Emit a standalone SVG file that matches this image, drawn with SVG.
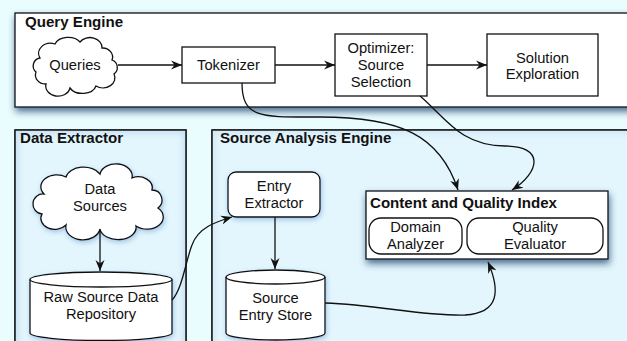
<svg xmlns="http://www.w3.org/2000/svg" width="627" height="341" viewBox="0 0 627 341">
<defs>
<style>
text{font-family:"Liberation Sans",Arial,sans-serif;font-size:14.7px;fill:#111;}
.t{text-anchor:middle;}
.b{font-weight:bold;font-size:15.1px;}
.shape{fill:#fff;stroke:#111;stroke-width:1.3;}
.panel{fill:#e3f6fd;stroke:#111;stroke-width:1.3;}
.conn{fill:none;stroke:#111;stroke-width:1.3;marker-end:url(#arr);}
</style>
<marker id="arr" markerUnits="userSpaceOnUse" markerWidth="12" markerHeight="10" refX="11" refY="5" orient="auto">
<path d="M0,0.5 L11,5 L0,9.5 L3.5,5 Z" fill="#111"/>
</marker>
<filter id="big" x="-10%" y="-20%" width="130%" height="160%">
<feDropShadow dx="1" dy="4" stdDeviation="3.5" flood-color="#1c3f6e" flood-opacity="0.75"/>
</filter>
<filter id="soft" x="-20%" y="-20%" width="140%" height="150%">
<feDropShadow dx="1" dy="2" stdDeviation="2.5" flood-color="#2f63b0" flood-opacity="0.35"/>
</filter>
<filter id="inner" x="-5%" y="-5%" width="110%" height="110%">
<feGaussianBlur stdDeviation="3"/>
</filter>
<clipPath id="cpDE"><rect x="15" y="130" width="171" height="230"/></clipPath>
<clipPath id="cpSA"><rect x="212" y="130" width="430" height="230"/></clipPath>
</defs>
<rect x="0" y="0" width="627" height="341" fill="#e9fcfe"/>

<g id="data-extractor">
<rect class="panel" x="15" y="130" width="171" height="230"/>
<rect x="15" y="130" width="171" height="230" fill="none" stroke="#c3dcf2" stroke-width="6" filter="url(#inner)" clip-path="url(#cpDE)"/>
<rect x="15" y="130" width="171" height="230" fill="none" stroke="#111" stroke-width="1.3"/>
<text class="b" x="20" y="143">Data Extractor</text>
</g>

<g id="source-analysis-engine">
<rect class="panel" x="212" y="130" width="430" height="230"/>
<rect x="212" y="130" width="430" height="230" fill="none" stroke="#cfe4f5" stroke-width="6" filter="url(#inner)" clip-path="url(#cpSA)"/>
<rect x="212" y="130" width="430" height="230" fill="none" stroke="#111" stroke-width="1.3"/>
<text class="b" x="220" y="143">Source Analysis Engine</text>
</g>

<g id="query-engine">
<rect class="shape" x="15" y="13" width="640" height="94" stroke-width="1.6" filter="url(#big)"/>
<text class="b" x="25" y="27">Query Engine</text>
</g>

<g id="queries">
<path class="shape" d="M40,58 A12,10 0 0 1 55,44 A14,10 0 0 1 80,42 A12,10 0 0 1 102,48 A10,9 0 0 1 112,60 A8,8 0 0 1 114,74 A12,10 0 0 1 96,86 A14,10 0 0 1 70,88 A12,10 0 0 1 46,84 A10,9 0 0 1 36,72 A8,8 0 0 1 40,58 Z"/>
<text class="t" x="75" y="70">Queries</text>
</g>

<g id="tokenizer">
<rect class="shape" x="182" y="47" width="93" height="36"/>
<text class="t" x="228.5" y="70">Tokenizer</text>
</g>

<g id="optimizer">
<rect class="shape" x="335" y="34" width="92" height="62"/>
<text class="t" x="381" y="53">Optimizer:</text>
<text class="t" x="381" y="70">Source</text>
<text class="t" x="381" y="87">Selection</text>
</g>

<g id="solution-exploration">
<rect class="shape" x="487" y="34" width="111" height="62"/>
<text class="t" x="542.5" y="63">Solution</text>
<text class="t" x="542.5" y="79">Exploration</text>
</g>

<g id="data-sources">
<path class="shape" filter="url(#soft)" d="M44,194 A16,12 0 0 1 66,177 A18,12 0 0 1 100,174 A16,12 0 0 1 132,178 A14,11 0 0 1 152,190 A10,10 0 0 1 158,208 A16,12 0 0 1 136,226 A18,12 0 0 1 100,229 A16,12 0 0 1 66,225 A14,11 0 0 1 42,214 A10,10 0 0 1 44,194 Z"/>
<text class="t" x="100" y="194">Data</text>
<text class="t" x="100" y="211">Sources</text>
</g>

<g id="raw-source-data-repository">
<path class="shape" filter="url(#soft)" d="M30,279.5 L30,333 A71,7.5 0 0 0 172,333 L172,279.5 A71,7.5 0 0 0 30,279.5 Z"/>
<path d="M30,279.5 A71,7.5 0 0 0 172,279.5" fill="none" stroke="#111" stroke-width="1.3"/>
<text class="t" x="101" y="302">Raw Source Data</text>
<text class="t" x="101" y="319">Repository</text>
</g>

<g id="entry-extractor">
<rect class="shape" filter="url(#soft)" x="228" y="172" width="92" height="45" rx="8"/>
<text class="t" x="274" y="191">Entry</text>
<text class="t" x="274" y="208">Extractor</text>
</g>

<g id="source-entry-store">
<path class="shape" filter="url(#soft)" d="M226,277 L226,333 A49.5,7 0 0 0 325,333 L325,277 A49.5,7 0 0 0 226,277 Z"/>
<path d="M226,277 A49.5,7 0 0 0 325,277" fill="none" stroke="#111" stroke-width="1.3"/>
<text class="t" x="275.5" y="303">Source</text>
<text class="t" x="275.5" y="320">Entry Store</text>
</g>

<g id="content-and-quality-index">
<rect class="shape" filter="url(#big)" x="366" y="191" width="242" height="68"/>
<text class="b" x="370" y="208">Content and Quality Index</text>
<rect class="shape" x="369" y="218" width="93" height="36" rx="12"/>
<text class="t" x="415.5" y="232">Domain</text>
<text class="t" x="415.5" y="249">Analyzer</text>
<rect class="shape" x="467" y="218" width="136" height="36" rx="12"/>
<text class="t" x="535" y="232">Quality</text>
<text class="t" x="535" y="249">Evaluator</text>
</g>

<g id="connectors">
<path class="conn" d="M118,65 L182,65"/>
<path class="conn" d="M275,65 L335,65"/>
<path class="conn" d="M427,65 L487,65"/>
<path class="conn" d="M242,83 C242,119 262,117 320,117 C400,117 440,135 458,190"/>
<path class="conn" d="M420,96 C445,117 460,146 505,146 C545,146 540,172 512,190"/>
<path class="conn" d="M100,230 L100,271"/>
<path class="conn" d="M275,217 L275,269"/>
<path class="conn" d="M172,300 C182,290 186,260 192,245 C198,228 215,222 232,217"/>
<path class="conn" d="M325,303 C380,305 420,316 465,315 C500,313 500,290 488,262"/>
</g>
</svg>
